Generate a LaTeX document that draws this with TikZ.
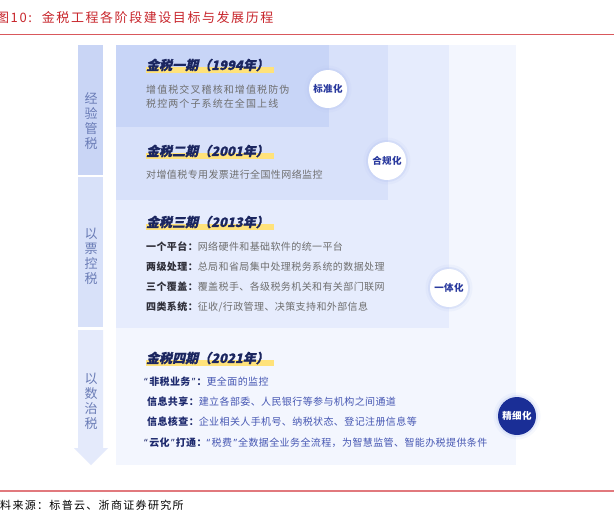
\documentclass[tikz,border=0pt]{standalone}
\usepackage{fontspec}
\setmainfont{Noto Sans CJK SC}[LetterSpace=4]
\newfontfamily\headfont{Noto Sans CJK SC}[FakeSlant=0.22,FakeBold=0.6]
\newfontfamily\capfont{Noto Sans CJK SC}[LetterSpace=12]
\newfontfamily\qfont{Noto Sans}
\newcommand\qo{{\qfont “}\kern1.5pt}
\newcommand\qc{\kern1.5pt{\qfont ”}\kern1pt}
\usetikzlibrary{positioning}
\definecolor{capred}{HTML}{C8262C}
\definecolor{rulered}{HTML}{D9585C}
\definecolor{navy}{HTML}{1B2660}
\definecolor{bodygray}{HTML}{6E6E6E}
\definecolor{labdark}{HTML}{2E2E38}
\definecolor{ffblue}{HTML}{4556B2}
\definecolor{fflab}{HTML}{1E2A6E}
\definecolor{hlyellow}{HTML}{FFE27A}
\definecolor{pone}{HTML}{C8D5F7}
\definecolor{ptwo}{HTML}{D8E1FA}
\definecolor{pthree}{HTML}{E6ECFD}
\definecolor{pfour}{HTML}{F3F6FE}
\definecolor{colone}{HTML}{C9D5F5}
\definecolor{coltwo}{HTML}{D8E1F9}
\definecolor{colthree}{HTML}{E4EAFB}
\definecolor{coltxt}{HTML}{6A7CB6}
\definecolor{badgetxt}{HTML}{2A3A9E}
\definecolor{badgefill}{HTML}{1A2E96}
\definecolor{glow}{HTML}{B9C6F2}
\pgfdeclarelayer{bg}
\pgfsetlayers{bg,main}

\begin{document}
\begin{tikzpicture}[x=1pt, y=-1pt,
  head/.style={anchor=west, inner sep=0pt, text=navy,
               font=\headfont\bfseries\fontsize{13}{15}\selectfont},
  hl/.style={fill=hlyellow},
  body/.style={anchor=west, inner sep=0pt, text=bodygray,
               font=\fontsize{10}{12}\selectfont},
  ffrow/.style={body, text=ffblue},
  coltext/.style={align=center, inner sep=0pt, text=coltxt,
                  font=\fontsize{13}{15}\selectfont},
  badge/.style={circle, fill=white, minimum size=38pt, inner sep=0pt,
                font=\fontsize{9.5}{11}\selectfont\bfseries, text=badgetxt,
                preaction={draw=glow, line width=9pt, draw opacity=.12},
                preaction={draw=glow, line width=4pt, draw opacity=.3}},
  fbadge/.style={badge, fill=badgefill, text=white}
]
\useasboundingbox (0,0) rectangle (614,512);
\begin{pgfonlayer}{bg}
\fill[white] (0,0) rectangle (614,512);
\fill[pfour] (116,45) rectangle (516,465);
\fill[pthree] (116,45) rectangle (449,328);
\fill[ptwo] (116,45) rectangle (388,200);
\fill[pone] (116,45) rectangle (329,127);
\fill[colone] (78,45) rectangle (103,175);
\fill[coltwo] (78,177) rectangle (103,327);
\fill[colthree] (78,330) -- (103,330) -- (103,448) -- (108,448) -- (91,465)
  -- (74,448) -- (78,448) -- cycle;
\end{pgfonlayer}

\node[anchor=west, inner sep=0pt, text=capred, font=\capfont\fontsize{13}{15}\selectfont]
  (caption) at (-4,18) {图10:\hspace{10pt}金税工程各阶段建设目标与发展历程};
\draw[rulered, line width=1pt] (0,34) -- (614,34);
\draw[rulered!80, line width=1.5pt] (0,491) -- (614,491);
\node[anchor=west, inner sep=0pt, font=\capfont\fontsize{11}{13}\selectfont]
  (source) at (0,505) {料来源：标普云、浙商证券研究所};

\node[coltext] (era1) at (91,121) {经\\验\\管\\税};
\node[coltext] (era2) at (91,256) {以\\票\\控\\税};
\node[coltext] (era3) at (91,401) {以\\数\\治\\税};

\node[head] (h1) at (146,65) {金税一期（1994年）};
\node[body, font=\addfontfeature{LetterSpace=11}\fontsize{10}{12}\selectfont]
  (s1a) at (146,90) {增值税交叉稽核和增值税防伪};
\node[body, font=\addfontfeature{LetterSpace=11}\fontsize{10}{12}\selectfont]
  (s1b) at (146,104) {税控两个子系统在全国上线};

\node[head] (h2) at (146,151) {金税二期（2001年）};
\node[body] (s2a) at (146,175) {对增值税专用发票进行全国性网络监控};

\node[head] (h3) at (146,222) {金税三期（2013年）};
\node[body] (s3a) at (146,247) {{\color{labdark}\bfseries 一个平台：}网络硬件和基础软件的统一平台};
\node[body] (s3b) at (146,267) {{\color{labdark}\bfseries 两级处理：}总局和省局集中处理税务系统的数据处理};
\node[body] (s3c) at (146,287) {{\color{labdark}\bfseries 三个覆盖：}覆盖税手、各级税务机关和有关部门联网};
\node[body] (s3d) at (146,307) {{\color{labdark}\bfseries 四类系统：}征收/行政管理、决策支持和外部信息};

\node[head] (h4) at (146,358) {金税四期（2021年）};
\node[ffrow] (s4a) at (144,382) {{\color{fflab}\bfseries \qo 非税业务\qc ：}更全面的监控};
\node[ffrow] (s4b) at (147,402) {{\color{fflab}\bfseries 信息共享：}建立各部委、人民银行等参与机构之间通道};
\node[ffrow] (s4c) at (147,422) {{\color{fflab}\bfseries 信息核查：}企业相关人手机号、纳税状态、登记注册信息等};
\node[ffrow] (s4d) at (144,443) {{\color{fflab}\bfseries \qo 云化\qc 打通：}\qo 税费\qc 全数据全业务全流程，为智慧监管、智能办税提供条件};

\begin{pgfonlayer}{bg}
\foreach \h in {h1,h2,h3,h4}
  \fill[hl] ([yshift=-2pt]\h.west) rectangle ([xshift=5pt,yshift=-7.5pt]\h.east);
\end{pgfonlayer}

\node[badge] (std) at (328,89) {标准化};
\node[badge] (comp) at (387,161) {合规化};
\node[badge] (integ) at (449,288) {一体化};
\node[fbadge] (fine) at (517,416) {精细化};
\end{tikzpicture}
\end{document}
